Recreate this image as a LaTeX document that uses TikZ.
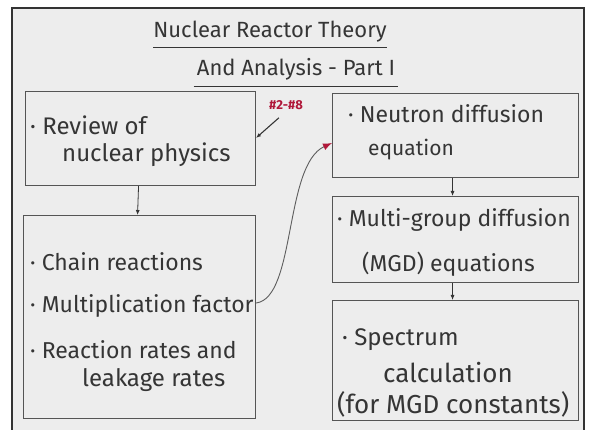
\documentclass[tikz,border=0pt]{standalone}
\usepackage{fontspec}
\setmainfont{Fira Sans}
\usetikzlibrary{arrows.meta}
\definecolor{board}{HTML}{EDEDED}
\definecolor{ink}{HTML}{353535}
\definecolor{boxline}{HTML}{555555}
\definecolor{redink}{HTML}{B0183A}
\newcommand{\fsz}[1]{\fontsize{#1}{#1}\selectfont}
\tikzset{
  boxnode/.style={draw=boxline, line width=1.1pt, anchor=north west, inner sep=0pt},
  txt/.style={anchor=west, inner sep=0pt, text=ink, font=\fsz{23}},
  ttl/.style={inner sep=0pt, text=ink, font=\fsz{22}},
  flow/.style={draw=ink, line width=0.8pt, -{Latex[length=5pt,width=4pt]}},
}
\begin{document}
\begin{tikzpicture}[x=1pt,y=-1pt]
\useasboundingbox (0,0) rectangle (589,430);
\fill[white] (0,0) rectangle (589,430);
\fill[board] (12,8) rectangle (584,430);
\draw[black!80, line width=1.2pt] (12,430) -- (12,8) -- (584,8) -- (584,430);

% title
\node[ttl] (t1) at (270,32) {Nuclear Reactor Theory};
\node[ttl] (t2) at (296,69) {And Analysis - Part I};
\draw[ink, line width=0.8pt] (t1.south west) ++(0,5) coordinate (u1a) -- (u1a -| t1.south east);
\draw[ink, line width=0.8pt] (t2.south west) ++(-3,6) coordinate (u2a) -- ([xshift=3pt]u2a -| t2.south east);

% boxes
\node[boxnode, minimum width=230pt, minimum height=94pt] (A) at (25,91) {};
\node[boxnode, minimum width=232pt, minimum height=203pt] (B) at (23,215) {};
\node[boxnode, minimum width=246pt, minimum height=84pt] (C) at (332,93) {};
\node[boxnode, minimum width=246pt, minimum height=86pt] (D) at (332,196) {};
\node[boxnode, minimum width=246pt, minimum height=120pt] (E) at (332,300) {};

% texts
\node[txt, font=\fsz{24}] (a1) at (30,125) {· Review of};
\node[txt, font=\fsz{24}] (a2) at (62,155) {nuclear physics};
\node[txt] (b1) at (30,262) {· Chain reactions};
\node[txt] (b2) at (30,306) {· Multiplication factor};
\node[txt] (b3) at (30,350) {· Reaction rates and};
\node[txt, font=\fsz{24}] (b4) at (82,380) {leakage rates};
\node[txt] (c1) at (348,114) {· Neutron diffusion};
\node[txt, font=\fsz{21}] (c2) at (368,150) {equation};
\node[txt] (d1) at (337,220) {· Multi-group diffusion};
\node[txt] (d2) at (362,264) {(MGD) equations};
\node[txt, font=\fsz{24}] (e1) at (342,340) {· Spectrum};
\node[txt, font=\fsz{26}] (e2) at (383,373) {calculation};
\node[txt, font=\fsz{26}] (e3) at (337,404) {(for MGD constants)};

% connectors
\draw[flow] ([xshift=-2pt]A.south) -- ([xshift=-2pt]B.north);
\draw[flow] ([xshift=-3pt]C.south) -- ([xshift=-3pt]D.north);
\draw[flow] ([xshift=-3pt]D.south) -- ([xshift=-3pt]E.north);

% annotation
\node[inner sep=0pt, text=redink, font=\fsz{13}\bfseries] (note) at (286,105) {\#2-\#8};
\coordinate (notetip) at (256,138);
\draw[ink, line width=1.1pt, -{Latex[length=5pt,width=4pt]}] (note.south west) ++(10,8) coordinate (ns) -- (notetip);

% curved arrow
\coordinate (cs) at (B.east |- 0,303);
\coordinate (ce) at (C.west |- 0,143);
\draw[ink!80, line width=0.9pt, -{Latex[length=9pt,width=7pt,color=redink]}] (cs) .. controls (296,298) and (284,165) .. (ce);
\end{tikzpicture}
\end{document}
